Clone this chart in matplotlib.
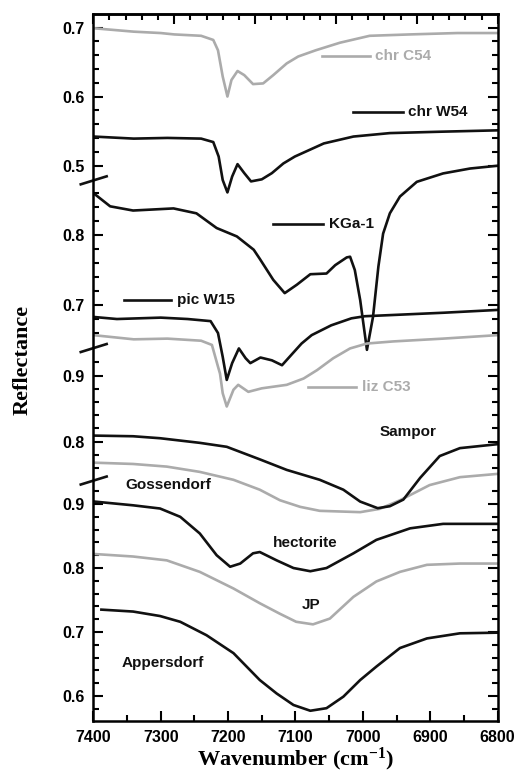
import matplotlib
matplotlib.use("Agg")
import matplotlib.pyplot as plt
from matplotlib.ticker import FixedLocator, MultipleLocator
import numpy as np

# ---- spectra: wavenumber (cm-1) and reflectance ----
chr_c54_wn = [7400, 7340, 7300, 7280, 7240, 7222, 7215, 7208, 7201, 7195, 7186, 7176,
              7163, 7148, 7133, 7113, 7096, 7070, 7034, 6990, 6930, 6860, 6800]
chr_c54_r = [0.699, 0.694, 0.692, 0.690, 0.688, 0.682, 0.667, 0.629, 0.600, 0.624, 0.637, 0.631,
             0.618, 0.619, 0.631, 0.648, 0.658, 0.667, 0.678, 0.688, 0.690, 0.692, 0.692]

chr_w54_wn = [7400, 7340, 7290, 7240, 7222, 7214, 7208, 7201, 7194, 7186, 7176, 7166,
              7150, 7135, 7118, 7101, 7058, 7014, 6960, 6885, 6800]
chr_w54_r = [0.542, 0.539, 0.540, 0.539, 0.534, 0.513, 0.479, 0.461, 0.484, 0.502, 0.489, 0.477,
             0.480, 0.489, 0.503, 0.513, 0.532, 0.542, 0.547, 0.549, 0.551]

kga1_wn = [7400, 7375, 7341, 7281, 7247, 7217, 7187, 7162, 7153, 7133, 7116, 7098, 7078, 7054,
           7041, 7024, 7019, 7012, 7004, 6994, 6985, 6977, 6970, 6960, 6945, 6920, 6881, 6841, 6800]
kga1_r = [0.860, 0.841, 0.835, 0.838, 0.831, 0.810, 0.798, 0.779, 0.766, 0.736, 0.717, 0.729, 0.744, 0.745,
          0.757, 0.768, 0.769, 0.750, 0.707, 0.636, 0.683, 0.755, 0.802, 0.831, 0.855, 0.876, 0.888, 0.895, 0.899]

pic_w15_wn = [7400, 7365, 7300, 7260, 7226, 7215, 7208, 7202, 7194, 7184, 7174, 7167,
              7152, 7135, 7120, 7106, 7091, 7076, 7047, 7017, 6997, 6950, 6880, 6800]
pic_w15_r = [0.683, 0.680, 0.682, 0.680, 0.677, 0.660, 0.626, 0.593, 0.617, 0.638, 0.624, 0.617,
             0.625, 0.621, 0.614, 0.629, 0.645, 0.657, 0.671, 0.681, 0.684, 0.686, 0.689, 0.693]

liz_c53_wn = [7400, 7340, 7290, 7240, 7224, 7215, 7212, 7208, 7202, 7192, 7185, 7170,
              7150, 7113, 7088, 7068, 7044, 7019, 6994, 6955, 6881, 6800]
liz_c53_r = [0.657, 0.651, 0.652, 0.649, 0.643, 0.612, 0.602, 0.574, 0.555, 0.579, 0.586, 0.576,
             0.581, 0.586, 0.595, 0.607, 0.624, 0.638, 0.645, 0.648, 0.652, 0.657]

sampor_wn = [7400, 7341, 7301, 7242, 7202, 7153, 7113, 7064, 7029, 7004, 6978, 6960,
             6940, 6915, 6886, 6856, 6800]
sampor_r = [0.809, 0.808, 0.805, 0.798, 0.792, 0.773, 0.757, 0.742, 0.727, 0.709, 0.699, 0.702,
            0.712, 0.745, 0.778, 0.790, 0.796]

gossendorf_wn = [7400, 7341, 7291, 7242, 7192, 7153, 7123, 7093, 7064, 7004, 6975, 6945, 6901, 6856, 6800]
gossendorf_r = [0.768, 0.766, 0.762, 0.754, 0.742, 0.727, 0.711, 0.701, 0.695, 0.693, 0.698, 0.711,
                0.734, 0.746, 0.751]

hectorite_wn = [7400, 7341, 7301, 7271, 7242, 7217, 7197, 7182, 7163, 7153, 7128, 7103, 7078,
                7054, 7014, 6980, 6930, 6881, 6800]
hectorite_r = [0.904, 0.898, 0.893, 0.880, 0.854, 0.820, 0.802, 0.807, 0.823, 0.825, 0.812, 0.800, 0.795,
               0.800, 0.823, 0.844, 0.862, 0.869, 0.869]

jp_wn = [7400, 7341, 7291, 7242, 7192, 7153, 7124, 7099, 7074, 7049, 7014, 6980, 6945, 6905, 6856, 6800]
jp_r = [0.822, 0.818, 0.812, 0.794, 0.768, 0.745, 0.729, 0.716, 0.712, 0.721, 0.755, 0.779, 0.794,
        0.805, 0.807, 0.807]

appersdorf_wn = [7388, 7341, 7301, 7271, 7232, 7192, 7153, 7128, 7103, 7078, 7054, 7029, 7004,
                 6980, 6945, 6905, 6856, 6800]
appersdorf_r = [0.735, 0.732, 0.725, 0.716, 0.695, 0.667, 0.625, 0.604, 0.586, 0.577, 0.581, 0.599,
                0.625, 0.646, 0.675, 0.690, 0.698, 0.699]

GRAY = "#ababab"
BLACK = "#111111"

# broken y axis: every block puts its own reflectance scale on one common plot coordinate
# (reference reflectance, plot position of it, plot units per reflectance unit, lower edge, upper edge)
BLOCKS = [
    (0.70, 693.2, 690, 537.7, 706.7),
    (0.80, 485.7, 700, 373.7, 537.7),
    (0.90, 345.2, 660, 240.7, 373.7),
    (0.75, 120.7, 640, 0.0, 240.7),
]
BREAKS = [540.4, 372.7, 240.2]
Y_TOP = 706.7


def to_plot(r, block):
    ref, pos, scale, lo, hi = BLOCKS[block]
    return pos + (np.asarray(r) - ref) * scale


curves = [
    (chr_c54_wn, chr_c54_r, 0, GRAY),
    (chr_w54_wn, chr_w54_r, 0, BLACK),
    (kga1_wn, kga1_r, 1, BLACK),
    (liz_c53_wn, liz_c53_r, 1, GRAY),
    (pic_w15_wn, pic_w15_r, 1, BLACK),
    (gossendorf_wn, gossendorf_r, 2, GRAY),
    (sampor_wn, sampor_r, 2, BLACK),
    (jp_wn, jp_r, 3, GRAY),
    (hectorite_wn, hectorite_r, 3, BLACK),
    (appersdorf_wn, appersdorf_r, 3, BLACK),
]

# (label, start of the short key line or None, text x, plot y, colour)
labels = [
    ("chr C54", 7061, 6982, 664.7, GRAY),
    ("chr W54", 7014, 6933, 609.0, BLACK),
    ("KGa-1", 7133, 7051, 496.7, BLACK),
    ("pic W15", 7355, 7276, 420.7, BLACK),
    ("liz C53", 7081, 7002, 334.0, GRAY),
    ("Sampor", None, 6975, 289.0, BLACK),
    ("Gossendorf", None, 7353, 235.7, BLACK),
    ("hectorite", None, 7133, 177.4, BLACK),
    ("JP", None, 7091, 115.7, BLACK),
    ("Appersdorf", None, 7358, 57.4, BLACK),
]

plt.rcParams["font.family"] = ["Liberation Sans", "DejaVu Sans"]
plt.rcParams["font.weight"] = "bold"
plt.rcParams["mathtext.fontset"] = "custom"
plt.rcParams["mathtext.rm"] = "Liberation Serif:bold"
plt.rcParams["mathtext.default"] = "rm"

fig = plt.figure(figsize=(5.23, 7.79), dpi=100)
ax = fig.add_axes([0.1784, 0.0748, 0.7732, 0.9072])

for wn, r, block, color in curves:
    ax.plot(wn, to_plot(r, block), color=color, lw=1.9, solid_joinstyle="round")

for text, line_start, x_text, y, color in labels:
    if line_start is not None:
        ax.plot([line_start, x_text + 8], [y, y], color=color, lw=1.9)
    ax.text(x_text, y, text, color=color, fontsize=11, fontweight="bold",
            ha="left", va="center")

ax.set_xlim(7400, 6800)
ax.set_ylim(0, Y_TOP)

# y ticks for every block of the broken axis
major_pos, major_lab, minor_pos = [], [], []
for ref, pos, scale, lo, hi in BLOCKS:
    for k in range(40, 100, 2):
        u = pos + (k / 100 - ref) * scale
        if lo + 5 < u < hi - 5 or (hi == Y_TOP and lo + 5 < u <= hi):
            if k % 10 == 0:
                major_pos.append(u)
                major_lab.append("%.1f" % (k / 100))
            else:
                minor_pos.append(u)
ax.set_yticks(major_pos, major_lab)
ax.yaxis.set_minor_locator(FixedLocator(minor_pos))

ax.set_xticks(np.arange(6800, 7401, 100))
ax.xaxis.set_minor_locator(MultipleLocator(50))

ax.tick_params(which="both", direction="in", left=True, right=True, bottom=True, top=False,
               width=1.5, labelsize=11.5)
ax.tick_params(which="major", length=7)
ax.tick_params(which="minor", length=4)
ax.tick_params(axis="y", pad=6)
ax.tick_params(axis="x", pad=7)

top = ax.secondary_xaxis("top")
top.set_xticks(np.arange(6800, 7401, 120), [])
top.xaxis.set_minor_locator(FixedLocator(np.arange(6800, 7401, 24)))
top.tick_params(which="both", direction="in", width=1.5)
top.tick_params(which="major", length=7)
top.tick_params(which="minor", length=4)

for sp in list(ax.spines.values()) + list(top.spines.values()):
    sp.set_linewidth(1.8)

for b in BREAKS:
    ax.plot([-0.031, 0.033], [b - 4, b + 4], transform=ax.get_yaxis_transform(),
            color=BLACK, lw=1.9, clip_on=False)

ax.set_xlabel("Wavenumber (cm$^{-1}$)", family="Liberation Serif", fontweight="bold", fontsize=16)
ax.set_ylabel("Reflectance", family="Liberation Serif", fontweight="bold", fontsize=16)
ax.xaxis.set_label_coords(0.5, -0.035)
ax.yaxis.set_label_coords(-0.15, 0.51)

fig.savefig("out.png", dpi=100)
